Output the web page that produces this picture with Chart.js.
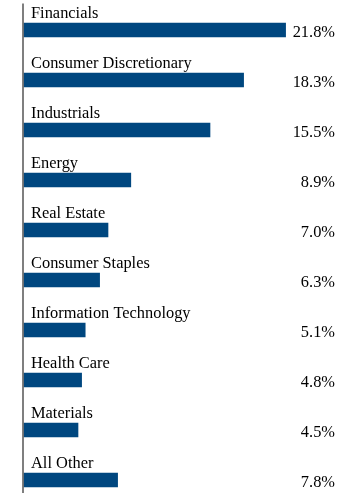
<!DOCTYPE html>
<html>
<head>
<meta charset="utf-8">
<script src="https://cdn.jsdelivr.net/npm/chart.js@4/dist/chart.umd.min.js"></script>
<style>
html,body{margin:0;padding:0;background:#fff;}
#wrap{width:360px;height:497px;position:relative;}
</style>
</head>
<body>
<div id="wrap"><canvas id="c" width="360" height="497"></canvas></div>
<script>
const categories = ["Financials","Consumer Discretionary","Industrials","Energy","Real Estate","Consumer Staples","Information Technology","Health Care","Materials","All Other"];
const values = [21.8,18.3,15.5,8.9,7.0,6.3,5.1,4.8,4.5,7.8];
const valueLabels = ["21.8%","18.3%","15.5%","8.9%","7.0%","6.3%","5.1%","4.8%","4.5%","7.8%"];

const FONT = '16.4px "Liberation Serif", "Times New Roman", serif';

const labelPlugin = {
  id: 'labels',
  afterDatasetsDraw(chart) {
    const ctx = chart.ctx;
    const meta = chart.getDatasetMeta(0);
    const ya = chart.scales.y;
    const pitch = ya.getPixelForValue(1) - ya.getPixelForValue(0);
    ctx.save();
    // axis line
    ctx.strokeStyle = '#555';
    ctx.lineWidth = 1.5;
    ctx.beginPath();
    const ax = chart.chartArea.left - 1;
    ctx.moveTo(ax, ya.getPixelForValue(0) - pitch * 0.53);
    ctx.lineTo(ax, ya.getPixelForValue(categories.length - 1) + pitch * 0.26);
    ctx.stroke();
    ctx.font = FONT;
    ctx.fillStyle = '#000';
    ctx.textBaseline = 'alphabetic';
    meta.data.forEach((bar, i) => {
      ctx.textAlign = 'left';
      ctx.fillText(categories[i], chart.chartArea.left + 7, bar.y - 12.5);
      ctx.textAlign = 'right';
      ctx.fillText(valueLabels[i], chart.width - 25, bar.y + 7);
    });
    ctx.restore();
  }
};

new Chart(document.getElementById('c'), {
  type: 'bar',
  data: {
    labels: categories,
    datasets: [{
      data: values,
      backgroundColor: '#00477F',
      borderWidth: 0,
      barThickness: 14,
      clip: false
    }]
  },
  options: {
    indexAxis: 'y',
    responsive: false,
    animation: false,
    layout: { padding: { left: 24, right: 36, top: 30, bottom: 17 } },
    plugins: { legend: { display: false }, tooltip: { enabled: false } },
    scales: {
      x: { display: false, min: 0, max: 25 },
      y: { display: false, offset: false }
    }
  },
  plugins: [labelPlugin]
});
</script>
</body>
</html>
